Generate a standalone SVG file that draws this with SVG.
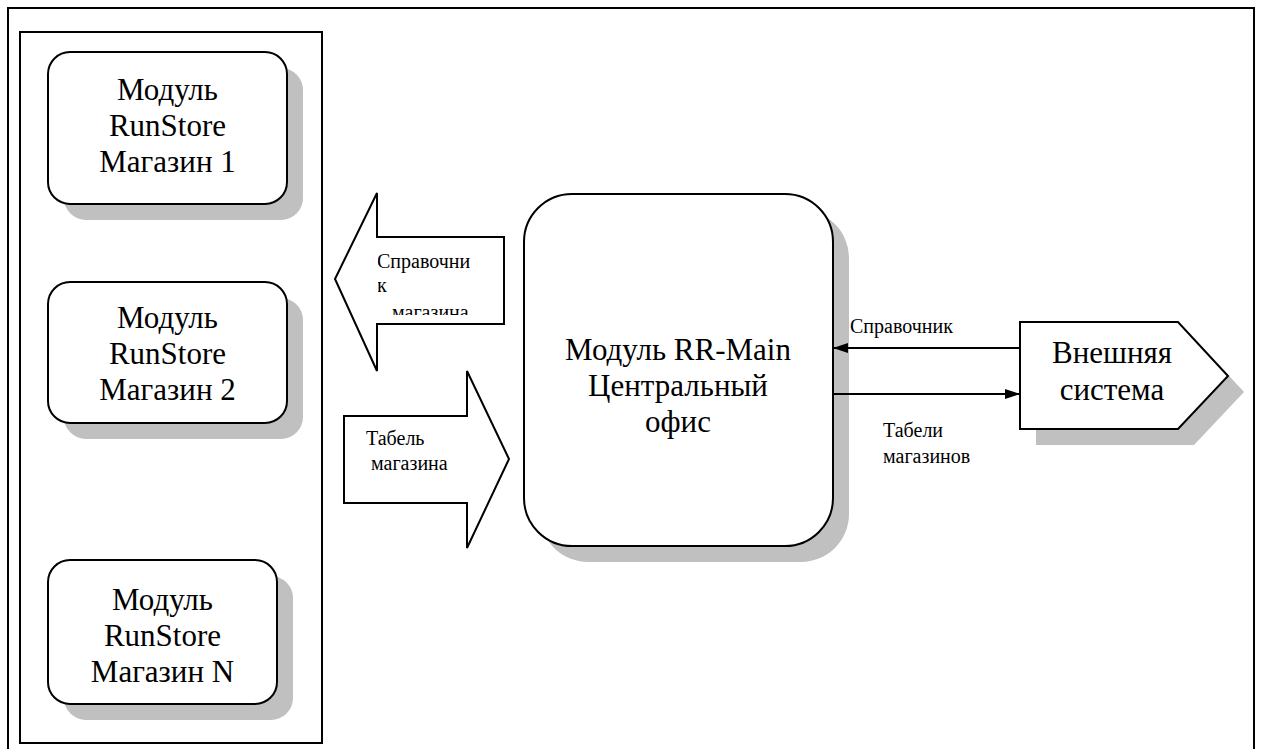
<svg xmlns="http://www.w3.org/2000/svg" width="1262" height="749" viewBox="0 0 1262 749">
<style>
.frame{fill:none;stroke:#000;stroke-width:2}
.box{fill:#fff;stroke:#000;stroke-width:2}
.shadow{fill:#c0c0c0;stroke:none}
.big{font-family:"Liberation Serif","Times New Roman",serif;font-size:31px;fill:#000;text-anchor:middle}
.small{font-family:"Liberation Serif","Times New Roman",serif;font-size:20px;fill:#000}
.conn{stroke:#000;stroke-width:2;fill:none}
</style>
<defs>
<marker id="ah" markerWidth="15" markerHeight="10" refX="15" refY="5" orient="auto" markerUnits="userSpaceOnUse">
<path d="M0,0 L15,5 L0,10 z" fill="#000"/>
</marker>
<clipPath id="clipL"><rect x="378" y="238" width="125" height="77"/></clipPath>
</defs>
<rect width="1262" height="749" fill="#fff"/>
<rect id="outer-frame" class="frame" x="8" y="8" width="1246" height="760"/>
<rect id="stores-frame" class="frame" x="20" y="32" width="302" height="711"/>

<g id="store1">
<rect class="shadow" x="64" y="68" width="239" height="152" rx="22"/>
<rect class="box" x="48" y="52" width="239" height="152" rx="22"/>
<text class="big" x="167.5" y="100">Модуль</text>
<text class="big" x="167.5" y="136">RunStore</text>
<text class="big" x="167.5" y="172">Магазин 1</text>
</g>
<g id="store2">
<rect class="shadow" x="64" y="298" width="239" height="141" rx="22"/>
<rect class="box" x="48" y="282" width="239" height="141" rx="22"/>
<text class="big" x="167.5" y="328">Модуль</text>
<text class="big" x="167.5" y="364">RunStore</text>
<text class="big" x="167.5" y="400">Магазин 2</text>
</g>
<g id="storeN">
<rect class="shadow" x="64" y="576" width="229" height="144" rx="22"/>
<rect class="box" x="48" y="560" width="229" height="144" rx="22"/>
<text class="big" x="162.5" y="610">Модуль</text>
<text class="big" x="162.5" y="646">RunStore</text>
<text class="big" x="162.5" y="682">Магазин N</text>
</g>

<g id="arrow-ref">
<polygon class="box" points="335,279 377,193 377,237 504,237 504,324 377,324 377,371"/>
<g clip-path="url(#clipL)">
<text class="small" x="377" y="268">Справочни</text>
<text class="small" x="377" y="292">к</text>
<text class="small" x="392" y="319">магазина</text>
</g>
</g>
<g id="arrow-tab">
<polygon class="box" points="344,416 467,416 467,371 509,459 467,548 467,503 344,503"/>
<text class="small" x="366" y="445">Табель</text>
<text class="small" x="371" y="470">магазина</text>
</g>

<g id="central">
<rect class="shadow" x="540" y="210" width="309" height="352" rx="48"/>
<rect class="box" x="524" y="194" width="309" height="352" rx="48"/>
<text class="big" x="678" y="360">Модуль RR-Main</text>
<text class="big" x="678" y="396">Центральный</text>
<text class="big" x="678" y="432">офис</text>
</g>

<g id="external">
<polygon class="shadow" points="1036,338 1194,338 1244,392 1194,445 1036,445"/>
<polygon class="box" points="1020,322 1178,322 1228,376 1178,429 1020,429"/>
<text class="big" x="1112" y="363">Внешняя</text>
<text class="big" x="1112" y="400">система</text>
</g>

<g id="connectors">
<line class="conn" x1="1020" y1="348" x2="833" y2="348" marker-end="url(#ah)"/>
<line class="conn" x1="833" y1="394" x2="1020" y2="394" marker-end="url(#ah)"/>
<text class="small" x="850" y="333">Справочник</text>
<text class="small" x="883" y="437">Табели</text>
<text class="small" x="883" y="463">магазинов</text>
</g>
</svg>
